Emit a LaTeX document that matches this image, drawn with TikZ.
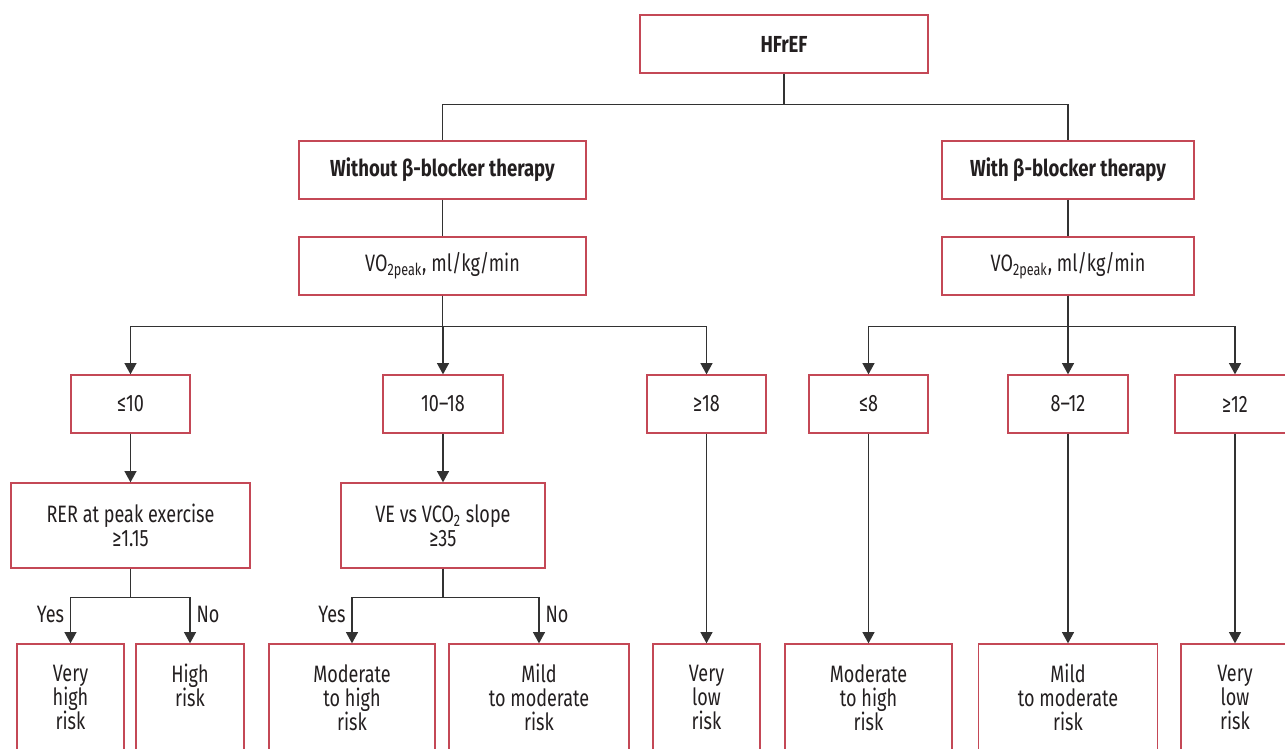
\documentclass[tikz,border=0pt]{standalone}
\usepackage{fontspec}
\setmainfont{Fira Sans}[FakeStretch=0.76, BoldFeatures={FakeStretch=0.8}]
\usepackage{xcolor}
\usepackage{tikz}
\usetikzlibrary{arrows.meta,positioning}
\definecolor{boxred}{RGB}{196,72,86}
\definecolor{inkgray}{RGB}{35,31,32}
\definecolor{linegray}{RGB}{50,50,50}

\begin{document}
\begin{tikzpicture}[x=0.02cm, y=-0.02cm,
      box/.style={draw=boxred, line width=0.75pt, fill=white, text=inkgray,
                  align=center, inner sep=0pt, minimum height=58*0.02cm,
                  font=\fontsize{13.5}{13.7}\selectfont},
      head/.style={box, font=\fontsize{13.2}{13.7}\selectfont\bfseries},
      boxw/.style={minimum width=#1*0.02cm},
      riskbox/.style={box, minimum height=114*0.02cm},
      link/.style={draw=linegray, line width=0.75pt},
      arr/.style={link, -{Triangle[length=6.4pt,width=6.8pt]}},
      lbl/.style={text=inkgray, font=\fontsize{13.5}{13.7}\selectfont}
  ]
    \fill[white] (0,0) rectangle (1285,748);
    \useasboundingbox (0,0) rectangle (1285,748);
    \clip (0,0) rectangle (1285,748);

    % top of the tree
    \node[head, boxw=288] (hfref) at (784,44) {HFrEF};
    \node[head, boxw=287] (without) at (442.5,170) {Without β-blocker therapy};
    \node[head, boxw=252] (with) at (1068,170) {With β-blocker therapy};
    \node[box, boxw=287] (vo2l) at (442.5,266) {VO\textsubscript{2peak}, ml/kg/min};
    \node[box, boxw=252] (vo2r) at (1068,266) {VO\textsubscript{2peak}, ml/kg/min};

    % VO2peak ranges
    \node[box, boxw=119] (le10) at (130.5,404) {≤10};
    \node[box, boxw=120] (r1018) at (443,404) {10–18};
    \node[box, boxw=119] (ge18) at (706.5,404) {≥18};
    \node[box, boxw=119] (le8) at (868.5,404) {≤8};
    \node[box, boxw=120] (r812) at (1068,404) {8–12};
    \node[box, boxw=120] (ge12) at (1235,404) {≥12};

    \node[box, boxw=239, minimum height=85*0.02cm] (rer) at (130.5,525.5)
      {RER at peak exercise\\≥1.15};
    \node[box, boxw=204, minimum height=85*0.02cm] (ve) at (443,525.5)
      {VE vs VCO\textsubscript{2} slope\\≥35};

    % risk classes
    \node[riskbox, boxw=107] (vhigh) at (70.5,701) {Very\\high\\risk\strut};
    \node[riskbox, boxw=108] (high) at (190,701) {High\\risk\\\strut};
    \node[riskbox, boxw=166] (modl) at (352,701) {Moderate\\to high\\risk\strut};
    \node[riskbox, boxw=180] (mildl) at (539,701) {Mild\\to moderate\\risk\strut};
    \node[riskbox, boxw=107] (vlowl) at (706.5,701) {Very\\low\\risk\strut};
    \node[riskbox, boxw=167] (modr) at (868.5,701) {Moderate\\to high\\risk\strut};
    \node[riskbox, boxw=179] (mildr) at (1068,701) {Mild\\to moderate\\risk\strut};
    \node[riskbox, boxw=108] (vlowr) at (1235,701) {Very\\low\\risk\strut};

    \draw[link] (hfref.south) -- ++(0,31) coordinate (split) -| (without.north);
    \draw[link] (split) -| (with.north);
    \draw[link] (without) -- (vo2l);
    \draw[link] (with) -- (vo2r);
    \foreach \t in {le10,r1018,ge18}
      \draw[arr] (vo2l.south) -- ++(0,31) -| (\t.north);
    \foreach \t in {le8,r812,ge12}
      \draw[arr] (vo2r.south) -- ++(0,31) -| (\t.north);
    \draw[arr] (le10) -- (rer);
    \draw[arr] (r1018) -- (ve);
    \draw[arr] (rer.south) -- ++(0,29) -| node[lbl, pos=0.68, left] {Yes} (vhigh.north);
    \draw[arr] (rer.south) -- ++(0,29) -| node[lbl, pos=0.68, right] {No} (high.north);
    \draw[arr] (ve.south) -- ++(0,29) -| node[lbl, pos=0.68, left] {Yes} (modl.north);
    \draw[arr] (ve.south) -- ++(0,29) -| node[lbl, pos=0.68, right] {No} (mildl.north);
    \draw[arr] (ge18) -- (vlowl);
    \draw[arr] (le8) -- (modr);
    \draw[arr] (r812) -- (mildr);
    \draw[arr] (ge12) -- (vlowr);
  \end{tikzpicture}
\end{document}
